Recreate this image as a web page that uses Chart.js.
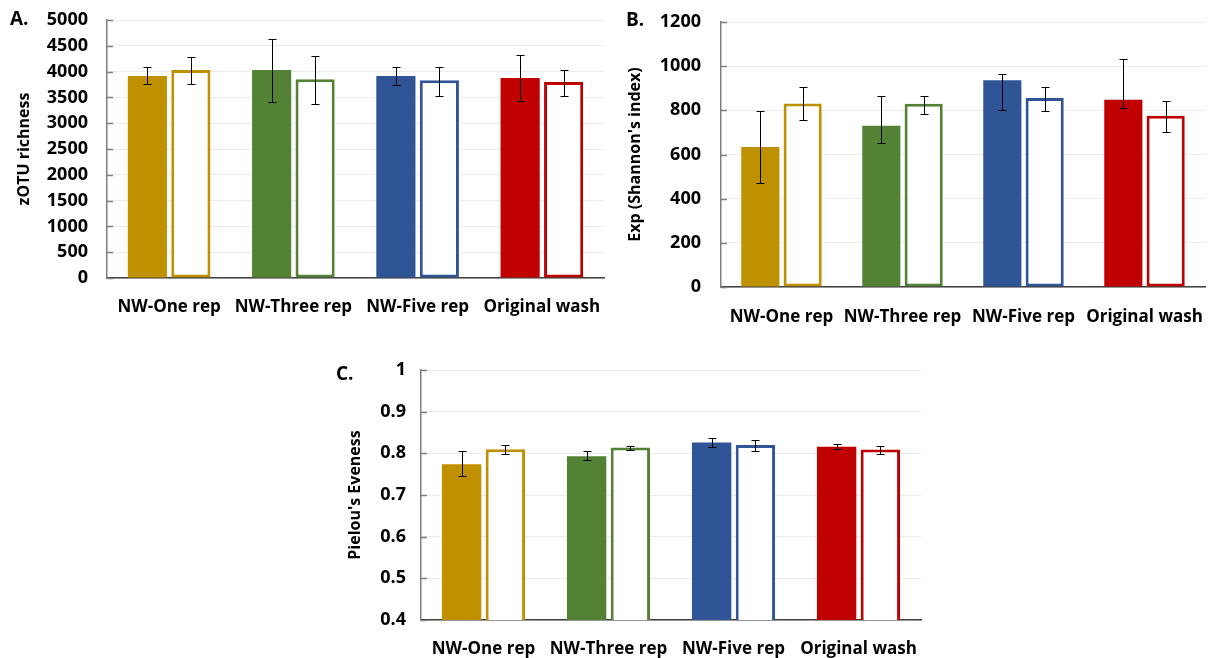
<!DOCTYPE html>
<html lang="en">
<head>
    <meta charset="UTF-8">
    <title>Diversity indices</title>
    <style>
        body {
            margin: 0;
            padding: 0;
            background: #ffffff;
            font-family: 'Open Sans', sans-serif;
        }
        .panel {
            position: absolute;
        }
        .letter {
            position: absolute;
            font-weight: bold;
            font-size: 19px;
            color: #000;
            line-height: 1;
        }
    </style>
</head>
<body>
    <div class="panel" style="left:0;top:0;"><canvas id="chartA" width="610" height="320"></canvas></div>
    <div class="panel" style="left:610px;top:0;"><canvas id="chartB" width="599" height="330"></canvas></div>
    <div class="panel" style="left:330px;top:350px;"><canvas id="chartC" width="600" height="308"></canvas></div>

    <div class="letter" style="left:10px;top:9px;">A.</div>
    <div class="letter" style="left:626px;top:10px;">B.</div>
    <div class="letter" style="left:336px;top:364px;">C.</div>

    <script src="https://cdn.jsdelivr.net/npm/chart.js"></script>
    <script>
// categories shared by all three panels
const categories = ['NW-One rep', 'NW-Three rep', 'NW-Five rep', 'Original wash'];

// A. zOTU richness
const richFilled = [3915, 4030, 3915, 3876];
const richFilledUp = [170, 595, 170, 445];
const richFilledDown = [155, 620, 180, 450];
const richOpen = [4030, 3850, 3830, 3800];
const richOpenUp = [246, 452, 253, 225];
const richOpenDown = [270, 483, 308, 278];

// B. Exp (Shannon's index)
const shanFilled = [634, 730, 936, 848];
const shanFilledUp = [164, 135, 30, 184];
const shanFilledDown = [165, 77, 133, 38];
const shanOpen = [831, 830, 856, 776];
const shanOpenUp = [76, 36, 51, 68];
const shanOpenDown = [77, 45, 58, 73];

// C. Pielou's Eveness
const pielouFilled = [0.774, 0.793, 0.826, 0.816];
const pielouFilledUp = [0.032, 0.012, 0.012, 0.006];
const pielouFilledDown = [0.029, 0.010, 0.010, 0.006];
const pielouOpen = [0.810, 0.814, 0.820, 0.809];
const pielouOpenUp = [0.011, 0.004, 0.011, 0.009];
const pielouOpenDown = [0.012, 0.006, 0.015, 0.011];

// y axis ranges: min, max, step
const richAxis = [0, 5000, 500];
const shanAxis = [0, 1200, 200];
const pielouAxis = [0.4, 1, 0.1];

const groupColors = ['#BF9000', '#548235', '#2F5597', '#C00000'];
const FONT = "'Open Sans', sans-serif";

// error bars + inside tick marks on the y axis
const errorBars = {
    id: 'errorBars',
    afterDatasetsDraw(chart) {
        const ctx = chart.ctx;
        const y = chart.scales.y;
        ctx.save();
        ctx.strokeStyle = '#000';
        ctx.lineWidth = 1;
        chart.data.datasets.forEach((ds, i) => {
            const meta = chart.getDatasetMeta(i);
            meta.data.forEach((bar, j) => {
                const top = Math.round(y.getPixelForValue(ds.data[j] + ds.errUp[j])) + 0.5;
                const bot = Math.round(y.getPixelForValue(ds.data[j] - ds.errDown[j])) + 0.5;
                const x = Math.round(bar.x) + 0.5;
                ctx.beginPath();
                ctx.moveTo(x, top); ctx.lineTo(x, bot);
                ctx.moveTo(x - 4, top); ctx.lineTo(x + 4, top);
                ctx.moveTo(x - 4, bot); ctx.lineTo(x + 4, bot);
                ctx.stroke();
            });
        });
        ctx.restore();
    },
    afterDraw(chart) {
        const ctx = chart.ctx;
        const y = chart.scales.y;
        const left = chart.chartArea.left;
        ctx.save();
        ctx.strokeStyle = '#7f7f7f';
        ctx.lineWidth = 1.5;
        y.ticks.forEach(t => {
            const py = Math.round(y.getPixelForValue(t.value)) + 0.5;
            ctx.beginPath();
            ctx.moveTo(left, py); ctx.lineTo(left + 6, py);
            ctx.stroke();
        });
        ctx.restore();
    }
};

function makeChart(id, cfg) {
    new Chart(document.getElementById(id), {
        type: 'bar',
        data: {
            labels: categories,
            datasets: [{
                data: cfg.filled,
                errUp: cfg.filledUp,
                errDown: cfg.filledDown,
                backgroundColor: groupColors,
                borderWidth: 0,
                categoryPercentage: 0.7,
                barPercentage: 0.9
            }, {
                data: cfg.open,
                errUp: cfg.openUp,
                errDown: cfg.openDown,
                backgroundColor: '#ffffff',
                borderColor: groupColors,
                borderWidth: 3,
                borderSkipped: false,
                categoryPercentage: 0.7,
                barPercentage: 0.9
            }]
        },
        options: {
            responsive: false,
            animation: false,
            layout: { padding: cfg.padding },
            plugins: {
                legend: { display: false },
                tooltip: { enabled: false }
            },
            scales: {
                x: {
                    grid: { display: false, drawTicks: false },
                    border: { display: true, color: '#404040', width: 1.5 },
                    ticks: {
                        color: '#000',
                        font: { family: FONT, size: 17, weight: 'bold' },
                        padding: cfg.xPad,
                        autoSkip: false,
                        maxRotation: 0
                    },
                    afterFit(s) {
                        s.height = cfg.xHeight;
                        s.paddingLeft = 0;
                        s.paddingRight = 0;
                    }
                },
                y: {
                    min: cfg.axis[0],
                    max: cfg.axis[1],
                    grid: { color: '#ebebeb', lineWidth: 1, drawTicks: false },
                    border: { display: true, color: '#7f7f7f', width: 1.5 },
                    ticks: {
                        stepSize: cfg.axis[2],
                        color: '#000',
                        font: { family: FONT, size: 18, weight: 'bold' },
                        padding: cfg.yPad,
                        callback: v => String(+v.toFixed(3))
                    },
                    title: {
                        display: true,
                        text: cfg.title,
                        color: '#000',
                        font: { family: FONT, size: 16, weight: 'bold' },
                        padding: { top: cfg.titleTop, bottom: 0 }
                    },
                    afterFit(s) {
                        s.width = cfg.yWidth;
                        s.paddingTop = 0;
                        s.paddingBottom = 0;
                    }
                }
            }
        },
        plugins: [errorBars]
    });
}

makeChart('chartA', {
    filled: richFilled, filledUp: richFilledUp, filledDown: richFilledDown,
    open: richOpen, openUp: richOpenUp, openDown: richOpenDown,
    axis: richAxis, title: 'zOTU richness',
    padding: { top: 20, right: 6, left: 0, bottom: 0 },
    yWidth: 107, xHeight: 42, xPad: 19, yPad: 19, titleTop: 15
});

makeChart('chartB', {
    filled: shanFilled, filledUp: shanFilledUp, filledDown: shanFilledDown,
    open: shanOpen, openUp: shanOpenUp, openDown: shanOpenDown,
    axis: shanAxis, title: "Exp (Shannon's index)",
    padding: { top: 22, right: 4, left: 0, bottom: 0 },
    yWidth: 111, xHeight: 43, xPad: 20, yPad: 20, titleTop: 16
});

makeChart('chartC', {
    filled: pielouFilled, filledUp: pielouFilledUp, filledDown: pielouFilledDown,
    open: pielouOpen, openUp: pielouOpenUp, openDown: pielouOpenDown,
    axis: pielouAxis, title: "Pielou's Eveness",
    padding: { top: 20, right: 9, left: 0, bottom: 0 },
    yWidth: 91, xHeight: 38, xPad: 19, yPad: 15, titleTop: 16
});
    </script>
</body>
</html>
